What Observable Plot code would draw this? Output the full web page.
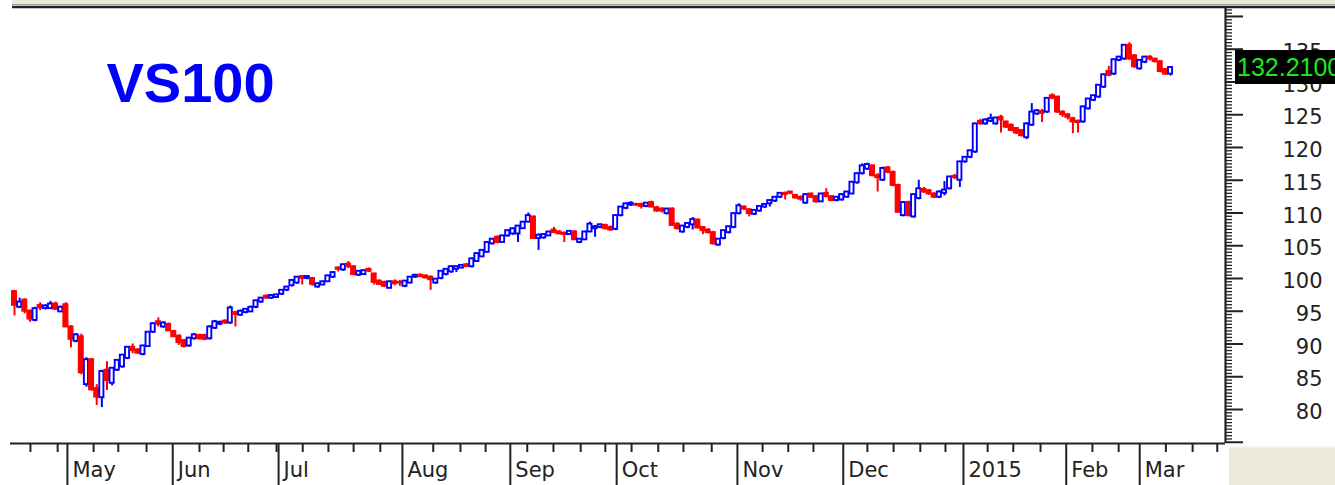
<!DOCTYPE html>
<html>
<head>
<meta charset="utf-8">
<script src="https://cdn.jsdelivr.net/npm/d3@7"></script>
<script src="https://cdn.jsdelivr.net/npm/@observablehq/plot@0.6"></script>
<style>
  html, body { margin: 0; padding: 0; background: #fff; }
  #chart svg { display: block; }
</style>
</head>
<body>
<div id="chart"></div>
<script>
// ---- Data: daily OHLC (index = trading day) ----
const open = [
  98.0, 95.6, 96.7, 95.0, 93.6, 95.9, 95.4, 95.4, 96.1, 94.9,
  96.0, 92.6, 90.4, 91.1, 83.8, 87.6, 83.2, 81.8, 86.0, 84.0,
  86.0, 86.5, 87.8, 89.5, 89.1, 88.4, 89.6, 91.8, 93.4, 92.6,
  93.0, 91.9, 91.2, 90.5, 89.7, 90.8, 91.3, 91.3, 90.8, 92.4,
  93.0, 93.5, 93.2, 94.8, 94.4, 94.8, 94.9, 95.6, 96.4, 97.3,
  97.0, 97.1, 97.6, 98.2, 98.9, 99.3, 100.3, 100.0, 100.0, 98.7,
  99.0, 99.5, 100.2, 101.6, 101.3, 102.2, 101.8, 100.5, 100.6, 101.4,
  100.7, 99.6, 99.4, 98.5, 99.5, 99.4, 98.8, 99.3, 100.2, 100.5,
  100.4, 100.2, 99.3, 100.0, 100.6, 101.0, 101.4, 101.6, 102.1, 101.8,
  102.6, 103.3, 104.0, 105.3, 106.3, 105.5, 106.5, 106.8, 106.8, 107.6,
  108.6, 109.4, 106.1, 106.2, 106.5, 107.4, 107.1, 106.9, 106.7, 107.1,
  105.5, 105.9, 107.1, 107.6, 107.8, 108.1, 107.8, 107.5, 109.6, 110.7,
  111.2, 111.3, 111.3, 111.0, 111.6, 110.8, 110.6, 109.9, 110.6, 108.3,
  107.1, 107.8, 108.2, 108.9, 107.8, 107.4, 107.0, 105.1, 106.1, 107.0,
  107.8, 109.9, 110.9, 110.5, 109.8, 110.3, 110.9, 111.4, 111.8, 112.4,
  113.0, 113.2, 112.7, 112.4, 111.5, 112.9, 112.5, 111.7, 113.0, 112.5,
  111.9, 112.0, 112.4, 112.9, 114.6, 116.0, 116.7, 117.2, 115.7, 115.0,
  116.9, 116.2, 114.2, 109.6, 111.6, 109.4, 112.2, 113.6, 113.4, 112.9,
  112.4, 113.0, 113.7, 115.6, 115.0, 117.8, 118.5, 119.3, 124.0, 123.6,
  124.0, 123.6, 124.6, 123.9, 123.4, 122.9, 122.6, 121.5, 123.4, 125.1,
  125.5, 125.4, 127.9, 127.7, 125.4, 125.0, 124.4, 124.0, 123.9, 125.9,
  127.2, 127.7, 129.2, 131.6, 131.2, 133.3, 133.5, 135.6, 134.0, 132.0,
  133.0, 133.8, 133.5, 133.1, 131.9, 131.2
];
const high = [
  98.2, 97.0, 96.9, 95.2, 95.6, 96.3, 96.0, 96.5, 96.4, 95.8,
  96.3, 92.8, 91.6, 91.5, 87.9, 87.8, 83.8, 86.0, 87.3, 86.4,
  87.6, 88.4, 89.6, 90.0, 89.3, 89.8, 91.9, 93.2, 94.0, 93.4,
  93.2, 92.1, 91.4, 90.7, 91.0, 91.6, 91.5, 91.5, 92.8, 93.6,
  93.5, 93.7, 95.8, 95.0, 95.2, 95.4, 95.8, 96.7, 97.1, 97.5,
  97.5, 97.6, 98.3, 98.8, 99.8, 100.3, 100.4, 100.4, 100.1, 99.3,
  99.6, 100.5, 101.0, 101.8, 102.2, 102.6, 101.9, 101.2, 101.3, 101.6,
  100.8, 99.8, 99.6, 99.6, 99.8, 99.7, 99.7, 100.3, 100.6, 100.7,
  100.5, 100.4, 100.0, 101.2, 101.5, 101.9, 101.9, 102.1, 102.3, 103.1,
  103.9, 104.4, 105.6, 106.1, 106.5, 106.6, 107.4, 107.7, 108.1, 108.7,
  110.0, 109.5, 106.8, 106.8, 107.2, 107.8, 107.3, 107.1, 107.3, 107.3,
  106.1, 107.2, 108.6, 108.1, 108.3, 108.3, 108.0, 109.7, 111.0, 111.5,
  111.7, 111.5, 111.5, 111.6, 111.8, 111.0, 110.8, 110.7, 110.8, 108.5,
  108.1, 108.5, 109.3, 109.1, 107.9, 107.6, 107.2, 106.1, 107.4, 108.0,
  110.0, 111.4, 111.1, 110.6, 110.5, 111.1, 111.4, 112.0, 112.5, 113.1,
  113.2, 113.3, 112.8, 112.6, 112.9, 113.0, 112.6, 113.0, 113.7, 112.6,
  112.5, 112.9, 113.3, 114.8, 116.1, 117.5, 117.6, 117.3, 116.0, 117.0,
  117.1, 116.4, 114.4, 111.7, 111.8, 112.9, 115.0, 113.9, 113.6, 113.1,
  113.4, 114.8, 115.6, 115.9, 117.9, 118.6, 119.6, 123.7, 124.3, 124.4,
  125.1, 124.6, 124.9, 124.0, 123.6, 123.0, 122.7, 123.8, 126.7, 125.8,
  125.8, 127.6, 128.2, 127.8, 125.6, 125.2, 124.6, 124.2, 126.3, 127.5,
  128.0, 129.6, 131.2, 132.4, 133.5, 133.9, 135.7, 136.0, 134.2, 133.4,
  133.9, 134.0, 133.6, 133.2, 132.0, 132.3
];
const low = [
  94.3, 95.4, 94.6, 93.3, 93.4, 95.1, 95.2, 95.3, 95.1, 94.8,
  92.5, 89.4, 90.2, 85.3, 83.4, 82.8, 80.6, 80.3, 82.9, 83.6,
  85.8, 86.3, 87.6, 88.5, 88.4, 88.2, 89.5, 91.6, 92.6, 92.4,
  91.9, 91.0, 89.8, 89.4, 89.5, 90.6, 90.6, 90.5, 90.6, 92.2,
  92.8, 93.0, 93.0, 92.6, 94.2, 94.6, 94.8, 95.4, 96.2, 96.8,
  96.8, 97.0, 97.4, 98.0, 98.7, 99.1, 99.0, 99.8, 98.8, 98.5,
  98.9, 99.4, 100.0, 101.0, 101.1, 101.5, 100.4, 100.3, 100.5, 100.9,
  99.0, 98.9, 98.6, 98.4, 98.9, 98.8, 98.6, 99.2, 100.0, 100.1,
  99.9, 98.2, 99.1, 99.8, 100.4, 100.8, 100.9, 101.5, 101.7, 101.6,
  102.5, 103.2, 103.9, 105.1, 105.3, 105.4, 106.3, 106.6, 105.5, 107.5,
  108.5, 106.0, 104.3, 106.0, 106.4, 106.9, 106.7, 105.5, 106.6, 105.8,
  105.3, 105.8, 107.0, 106.3, 107.6, 107.4, 107.2, 107.3, 109.4, 110.5,
  111.0, 111.0, 110.6, 110.8, 110.8, 110.1, 110.0, 109.7, 108.0, 107.4,
  106.9, 107.6, 107.4, 107.6, 106.7, 106.8, 105.1, 104.9, 105.9, 106.8,
  107.6, 109.7, 110.4, 109.4, 109.6, 110.1, 110.7, 110.9, 111.6, 112.2,
  112.0, 112.8, 112.1, 111.8, 111.3, 112.2, 111.5, 111.6, 112.3, 111.7,
  111.7, 111.8, 112.3, 112.8, 114.4, 115.8, 116.5, 115.5, 113.2, 114.8,
  116.0, 114.0, 110.0, 109.4, 109.4, 109.2, 112.0, 113.0, 112.7, 112.2,
  112.2, 112.6, 113.5, 115.1, 113.9, 117.6, 118.3, 119.1, 123.4, 123.4,
  123.8, 123.4, 122.2, 122.9, 122.4, 122.0, 121.6, 121.2, 123.2, 124.9,
  123.8, 125.2, 127.3, 125.2, 124.6, 124.2, 122.1, 122.2, 123.7, 125.7,
  127.0, 127.5, 129.0, 130.8, 131.0, 133.1, 133.3, 133.3, 132.1, 131.8,
  132.8, 133.2, 132.9, 131.4, 131.0, 130.9
];
const close = [
  95.9, 96.4, 95.0, 93.8, 95.4, 95.5, 95.8, 96.1, 95.3, 95.6,
  92.6, 90.7, 91.4, 85.6, 87.6, 83.0, 81.9, 85.8, 84.4, 86.3,
  87.5, 88.3, 89.5, 89.0, 88.6, 89.7, 91.8, 93.1, 93.0, 93.2,
  92.0, 91.1, 90.2, 89.6, 90.9, 91.4, 90.8, 90.7, 92.6, 93.4,
  93.3, 93.2, 95.5, 94.5, 95.0, 95.3, 95.6, 96.6, 97.0, 97.0,
  97.4, 97.5, 98.2, 98.7, 99.7, 100.2, 100.0, 100.3, 99.1, 99.2,
  99.5, 100.4, 100.9, 101.4, 102.1, 101.8, 100.6, 101.1, 101.2, 101.1,
  99.4, 99.1, 98.8, 99.5, 99.2, 99.3, 99.6, 100.2, 100.5, 100.3,
  100.1, 99.8, 99.9, 101.1, 101.4, 101.8, 101.8, 102.0, 101.8, 103.0,
  103.8, 104.3, 105.5, 106.0, 105.5, 106.5, 107.3, 107.6, 108.0, 108.6,
  109.6, 106.1, 106.6, 106.7, 107.1, 107.0, 106.8, 106.7, 107.2, 105.9,
  106.0, 107.1, 108.3, 107.9, 108.2, 107.6, 107.4, 109.6, 110.9, 111.4,
  111.5, 111.2, 111.0, 111.5, 110.9, 110.3, 110.3, 110.6, 108.1, 107.6,
  108.0, 108.4, 109.0, 107.7, 107.3, 107.0, 105.3, 106.0, 107.3, 107.9,
  109.9, 111.1, 110.6, 109.9, 110.4, 111.0, 111.3, 111.9, 112.4, 113.0,
  112.8, 113.0, 112.3, 112.1, 112.8, 112.4, 111.7, 112.9, 112.5, 111.9,
  112.4, 112.8, 113.2, 114.7, 116.0, 117.2, 117.4, 115.7, 115.4, 116.8,
  116.2, 114.2, 110.1, 111.6, 109.6, 112.8, 113.7, 113.2, 112.9, 112.4,
  113.2, 113.5, 115.5, 115.4, 117.8, 118.5, 119.5, 123.6, 123.6, 124.2,
  124.4, 124.5, 124.2, 123.1, 122.6, 122.2, 121.8, 123.6, 125.4, 125.6,
  125.2, 127.5, 127.5, 125.4, 125.0, 124.6, 123.9, 123.8, 126.2, 127.4,
  127.9, 129.5, 131.1, 131.0, 133.4, 133.8, 135.6, 133.5, 132.3, 133.3,
  133.8, 133.5, 133.1, 131.6, 131.2, 132.21
];

// ---- Axis ticks / labels (positions in trading-day index units) ----
const monthLabels  = ["May", "Jun", "Jul", "Aug", "Sep", "Oct", "Nov", "Dec", "2015", "Feb", "Mar"];
const monthTickPos = [10.3, 30.8, 51.4, 75.5, 96.5, 117.2, 140.7, 161.3, 184.7, 204.7, 219.0];
const weekTickPos  = [3.1, 8.4, 15.4, 20.2, 25.7, 36.0, 40.7, 45.5, 51.0, 56.1, 61.1, 66.0, 71.2,
  81.5, 86.8, 91.7, 99.8, 104.9, 110.2, 115.0, 120.1, 125.3, 130.2, 135.7, 145.6, 150.6, 155.5,
  166.0, 171.1, 176.3, 181.2, 189.4, 194.4, 199.7, 209.8, 214.9, 224.1, 229.3, 234.1];
const yMajorTicks = [75, 80, 85, 90, 95, 100, 105, 110, 115, 120, 125, 130, 135, 140];
const yLabelTicks = [80, 85, 90, 95, 100, 105, 110, 115, 120, 125, 130, 135];
const yMinorTicks = d3.range(75, 141.01, 0.5).filter(v => v % 5 !== 0);
const title = "VS100";

const xDomain = [-0.78, 235.7];
const yDomain = [74.81, 141.37];

const UP = "#0000ff", DOWN = "#ff0000", INK = "#222222";
const candles = close.map((c, i) => ({i, o: open[i], h: high[i], l: low[i], c, up: c >= open[i]}));

const chart = Plot.plot({
  width: 1335,
  height: 485,
  marginLeft: 10,
  marginRight: 110,
  marginTop: 7,
  marginBottom: 42,
  style: {background: "white", fontFamily: "DejaVu Sans", fontSize: "21px", color: INK},
  x: {type: "linear", domain: xDomain},
  y: {type: "linear", domain: yDomain},
  color: {type: "identity"},
  marks: [
    // wicks
    Plot.ruleX(candles, {x: "i", y1: "l", y2: "h", stroke: d => d.up ? UP : DOWN, strokeWidth: 2}),
    // bodies
    Plot.rect(candles, {
      x1: d => d.i - 0.4, x2: d => d.i + 0.4, y1: "o", y2: "c",
      fill: d => d.up ? "white" : DOWN,
      stroke: d => d.up ? UP : DOWN,
      strokeWidth: 1.9
    }),
    // frame lines
    Plot.ruleX([xDomain[1]], {stroke: INK, strokeWidth: 2.2}),
    Plot.ruleY([yDomain[0]], {stroke: INK, strokeWidth: 2.2}),
    // y axis ticks (right)
    Plot.axisY(yMajorTicks, {anchor: "right", tickSize: 17, stroke: INK, strokeWidth: 2, fill: "none"}),
    Plot.axisY(yMinorTicks, {anchor: "right", tickSize: 6, stroke: INK, strokeWidth: 1.3, fill: "none"}),
    Plot.text(yLabelTicks, {
      y: d => d, text: d => String(d), frameAnchor: "right", dx: 97, dy: 3,
      textAnchor: "end", fontSize: 21, fontFamily: "DejaVu Sans", fill: INK
    }),
    // x axis ticks (bottom)
    Plot.axisX(weekTickPos, {anchor: "bottom", tickSize: 9, stroke: INK, strokeWidth: 2, fill: "none"}),
    Plot.axisX(monthTickPos, {anchor: "bottom", tickSize: 42, stroke: INK, strokeWidth: 2, fill: "none"}),
    Plot.text(monthLabels, {
      x: (d, i) => monthTickPos[i], text: d => d, frameAnchor: "bottom", dx: 5, dy: 33,
      textAnchor: "start", lineAnchor: "bottom", fontSize: 21, fontFamily: "DejaVu Sans", fill: INK
    }),
    // title
    Plot.text([title], {
      text: d => d, frameAnchor: "top-left", dx: 96, dy: 94, textAnchor: "start", lineAnchor: "bottom",
      fontSize: 56, fontWeight: "bold", fontFamily: "Liberation Sans", fill: "#0000ff"
    })
  ]
});

// window chrome around the plot + last price box
const svg = d3.select(chart);
svg.append("rect").attr("x", 12).attr("y", 0).attr("width", 1323).attr("height", 5).attr("fill", "#ECE9D8");
svg.append("line").attr("x1", 12).attr("x2", 1335).attr("y1", 4.5).attr("y2", 4.5).attr("stroke", "#a0a0a0").attr("stroke-width", 1);
svg.append("line").attr("x1", 12).attr("x2", 1335).attr("y1", 7).attr("y2", 7).attr("stroke", INK).attr("stroke-width", 2.4);
svg.append("rect").attr("x", 1229).attr("y", 446).attr("width", 106).attr("height", 39).attr("fill", "#ECE9D8");
svg.append("line").attr("x1", 1229).attr("x2", 1335).attr("y1", 446.5).attr("y2", 446.5).attr("stroke", "#f8f7f0").attr("stroke-width", 2);

const last = close[close.length - 1];
const yLast = chart.scale("y").apply(last);
svg.append("rect").attr("x", 1235).attr("y", yLast - 17).attr("width", 110).attr("height", 34).attr("fill", "#000");
svg.append("text").attr("x", 1237).attr("y", yLast + 9).attr("text-anchor", "start")
  .attr("font-family", "Liberation Sans").attr("font-size", 25).attr("fill", "#1ee61e")
  .text(last.toFixed(4));

document.getElementById("chart").appendChild(chart);
</script>
</body>
</html>
